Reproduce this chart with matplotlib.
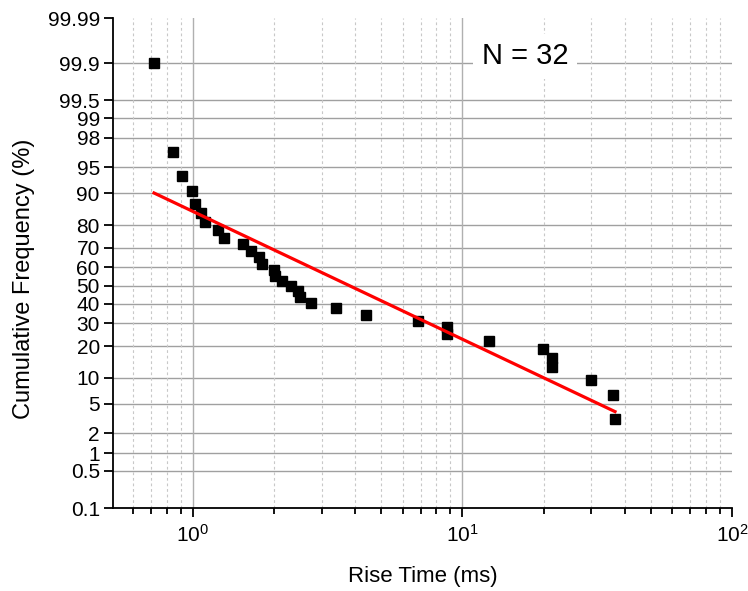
import math
from statistics import NormalDist
import numpy as np
import matplotlib
matplotlib.use("Agg")
import matplotlib.pyplot as plt
from matplotlib.ticker import FixedLocator, NullLocator, LogLocator, LogFormatterSciNotation, FixedFormatter

plt.rcParams['font.family'] = ['Liberation Sans', 'DejaVu Sans']
plt.rcParams['mathtext.default'] = 'regular'

# Data
rise_time = [0.717, 0.843, 0.910, 0.991, 1.017, 1.071, 1.108, 1.238, 1.303, 1.533,
             1.642, 1.758, 1.803, 1.998, 2.015, 2.138, 2.31, 2.45, 2.49, 2.74,
             3.39, 4.38, 6.83, 8.77, 8.77, 12.55, 19.9, 21.5, 21.5, 30.0,
             36.2, 36.8]
cum_freq = [99.9, 96.8, 93.6, 90.6, 87.2, 84.3, 81.2, 78.0, 74.6, 71.8,
            68.5, 65.5, 61.8, 58.6, 55.3, 52.6, 49.8, 47.0, 43.7, 40.4,
            37.8, 34.2, 31.1, 28.3, 25.1, 22.1, 18.9, 15.7, 12.9, 9.5,
            6.4, 3.2]
fit_x = [0.717, 36.8]
fit_y = [90.1, 4.0]
y_ticks = [0.1, 0.5, 1, 2, 5, 10, 20, 30, 40, 50, 60, 70, 80, 90, 95, 98, 99, 99.5, 99.9, 99.99]
y_tick_labels = ['0.1', '0.5', '1', '2', '5', '10', '20', '30', '40', '50', '60', '70',
                 '80', '90', '95', '98', '99', '99.5', '99.9', '99.99']
n_label = 'N = 32'

_nd = NormalDist()
_ppf = np.vectorize(lambda p: _nd.inv_cdf(min(max(p / 100.0, 1e-9), 1 - 1e-9)), otypes=[float])
_cdf = np.vectorize(lambda z: 100.0 * 0.5 * (1 + math.erf(z / math.sqrt(2))), otypes=[float])

def fwd(p):
    return _ppf(np.asarray(p, dtype=float))

def inv(z):
    return _cdf(np.asarray(z, dtype=float))

fig = plt.figure(figsize=(7.48, 5.91), dpi=100)
ax = fig.add_axes([113/748, 1 - 508/591, (732 - 113)/748, (508 - 18)/591])

ax.set_xscale('log')
ax.set_yscale('function', functions=(fwd, inv))
ax.set_xlim(0.505, 100)
ax.set_ylim(0.1, 99.99)

ax.yaxis.set_major_locator(FixedLocator(y_ticks))
ax.yaxis.set_major_formatter(FixedFormatter(y_tick_labels))
ax.yaxis.set_minor_locator(NullLocator())

ax.xaxis.set_major_locator(LogLocator(base=10, numticks=10))
ax.xaxis.set_major_formatter(LogFormatterSciNotation())
ax.xaxis.set_minor_locator(LogLocator(base=10, subs=np.arange(2, 10), numticks=20))

# grid
for v in y_ticks[1:-1]:
    ax.axhline(v, color='#a0a0a0', lw=1.0, zorder=1)
for v in [1, 10]:
    ax.axvline(v, color='#b0b0b0', lw=1.0, zorder=1)
ax.grid(True, which='minor', axis='x', color='#c8c8c8', lw=0.8, linestyle=(0, (2.5, 2.5)), zorder=1)

ax.plot(rise_time, cum_freq, linestyle='none', marker='s', ms=7.5, color='black', zorder=3)
ax.plot(fit_x, fit_y, color='#ff0000', lw=2.3, zorder=4)

ax.spines['top'].set_visible(False)
ax.spines['right'].set_visible(False)
ax.spines['left'].set_linewidth(1.3)
ax.spines['bottom'].set_linewidth(1.3)

ax.tick_params(axis='both', which='major', direction='out', length=6.5, width=1.3, labelsize=15, pad=3)
ax.tick_params(axis='x', which='minor', direction='out', length=4.3, width=1.3)
ax.tick_params(axis='x', which='major', pad=5)

ax.set_xlabel('Rise Time (ms)', fontsize=16)
ax.set_ylabel('Cumulative Frequency (%)', fontsize=17)
ax.xaxis.set_label_coords(0.5, -0.118)
ax.yaxis.set_label_coords(-0.126, 0.467)

ax.text(0.666, 0.922, n_label, transform=ax.transAxes, fontsize=21, ha='center', va='center',
        bbox=dict(facecolor='white', edgecolor='none', pad=6), zorder=5)

fig.savefig('out.png', dpi=100)
